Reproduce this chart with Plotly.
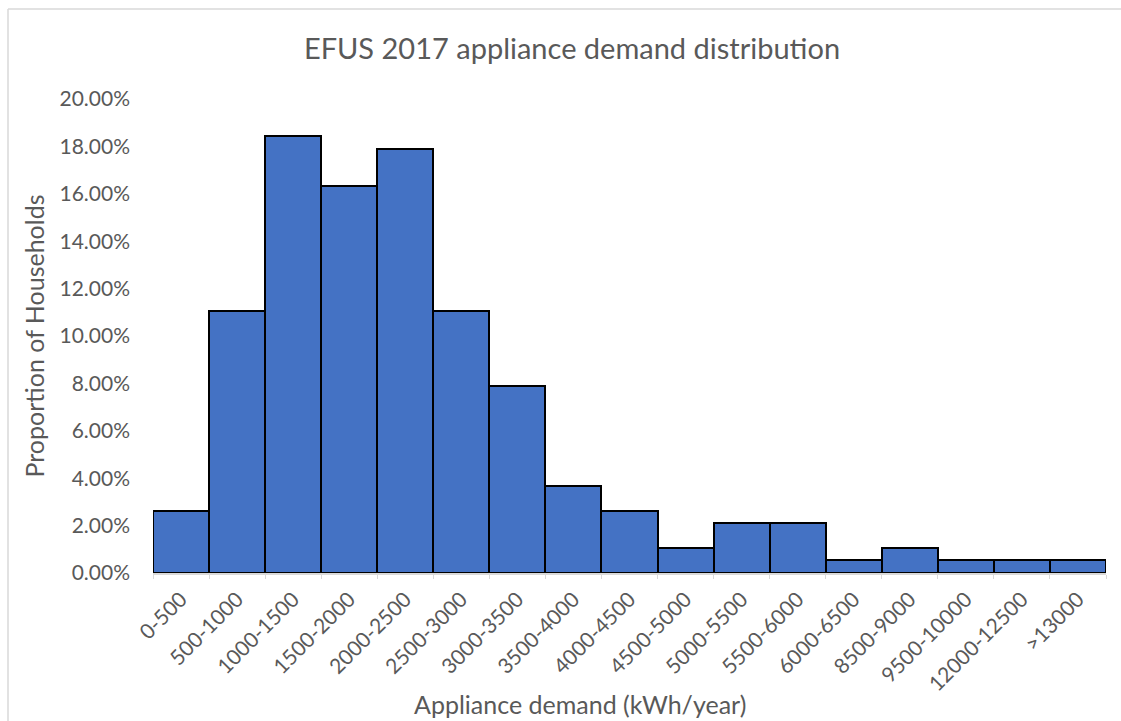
import plotly.graph_objects as go

# Household appliance electricity demand bins (kWh/year) and share of households
demand_bins = ["0-500", "500-1000", "1000-1500", "1500-2000", "2000-2500",
               "2500-3000", "3000-3500", "3500-4000", "4000-4500", "4500-5000",
               "5000-5500", "5500-6000", "6000-6500", "8500-9000", "9500-10000",
               "12000-12500", ">13000"]
household_share = [0.0263, 0.1105, 0.1842, 0.1632, 0.1789,
                   0.1105, 0.0789, 0.0368, 0.0263, 0.0105,
                   0.0211, 0.0211, 0.0053, 0.0105, 0.0053,
                   0.0053, 0.0053]
y_ticks = [0.0, 0.02, 0.04, 0.06, 0.08, 0.10, 0.12, 0.14, 0.16, 0.18, 0.20]

W, H = 1121, 721
L, R, T, B = 153, 15, 99, 148
pw, ph = W - L - R, H - T - B

FONT = "Lato"
GREY = "#595959"

fig = go.Figure(go.Bar(
    x=demand_bins,
    y=household_share,
    width=1.0,
    marker=dict(color="#4472C4", line=dict(color="black", width=2)),
))

# light outer chart border (top and left edges)
bx0 = (8 - L) / pw
by1 = (H - B - 9) / ph
fig.add_shape(type="line", xref="paper", yref="paper",
              x0=bx0, x1=(W - L) / pw + 0.01, y0=by1, y1=by1,
              line=dict(color="#d9d9d9", width=1.5))
fig.add_shape(type="line", xref="paper", yref="paper",
              x0=bx0, x1=bx0, y0=by1, y1=-B / ph - 0.01,
              line=dict(color="#d9d9d9", width=1.5))

# horizontal axis title, centred on the chart area near the bottom edge
fig.add_annotation(text="Appliance demand (kWh/year)", xref="paper", yref="paper",
                   x=(580 - L) / pw, y=-(720 - (H - B)) / ph,
                   xanchor="center", yanchor="bottom", showarrow=False,
                   borderpad=0,
                   font=dict(size=25, color=GREY, family=FONT))

fig.update_layout(
    width=W, height=H,
    margin=dict(l=L, r=R, t=T, b=B),
    plot_bgcolor="white", paper_bgcolor="white",
    font=dict(family=FONT, color=GREY, size=20),
    showlegend=False,
    title=dict(text="EFUS 2017 appliance demand distribution",
               x=572 / W, xanchor="center", y=1 - 49 / H, yanchor="middle",
               font=dict(size=29, color=GREY, family=FONT)),
    xaxis=dict(
        type="category",
        automargin=False,
        range=[-0.5, len(demand_bins) - 0.5],
        tickangle=-45,
        ticks="outside", tickson="boundaries", ticklen=4, tickcolor="#d9d9d9",
        showline=True, linecolor="#d9d9d9", linewidth=1.5,
        showgrid=False,
        ticklabelstandoff=4,
        tickfont=dict(size=21, color=GREY),
    ),
    yaxis=dict(
        automargin=False,
        range=[0, 0.20],
        tickvals=y_ticks,
        tickformat=".2%",
        showgrid=False, zeroline=False, showline=False,
        ticks="", ticklabelstandoff=22,
        tickfont=dict(size=21, color=GREY),
        title=dict(text="Proportion of Households", font=dict(size=25, color=GREY),
                   standoff=7),
    ),
    bargap=0,
)

fig.write_html("out.html")
